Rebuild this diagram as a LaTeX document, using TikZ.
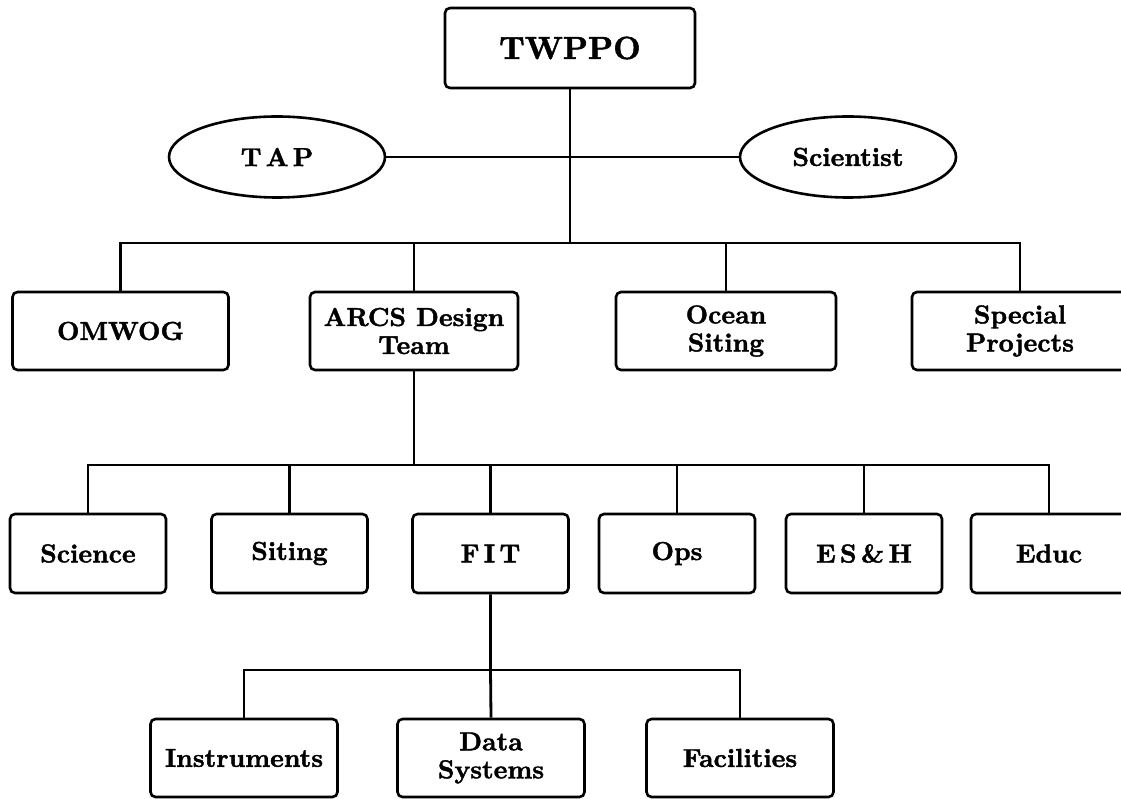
\documentclass[tikz,border=0pt]{standalone}
\usepackage{fontspec}
\usetikzlibrary{shapes.geometric}
\newfontfamily\heavyfont{lmroman10-bold.otf}[FakeBold=1.6]
\begin{document}
\begin{tikzpicture}[x=1pt,y=-1pt,
  txt/.style={font=\fontsize{26}{28}\selectfont\heavyfont},
  box/.style={draw, line width=2.6pt, rounded corners=5pt, inner sep=0pt, align=center, txt},
  top/.style={box, minimum width=250pt, minimum height=80pt, font=\fontsize{32}{34}\selectfont\heavyfont},
  rowa/.style={box, minimum width=216pt, minimum height=78pt},
  rowb/.style={box, minimum width=156pt, minimum height=79pt},
  rowc/.style={box, minimum width=187pt, minimum height=78pt},
  oval/.style={draw, ellipse, line width=2.6pt, inner sep=0pt, minimum width=216pt, minimum height=81pt, txt},
  link/.style={line width=2.8pt}]
\useasboundingbox (0,0) rectangle (1121,799);

% top
\node[top] (twppo) at (570,48) {TWPPO};
\node[oval] (tap) at (277,157) {T\,A\,P};
\node[oval] (sci) at (848,157) {Scientist};

% row 1
\node[rowa] (omwog) at (120.5,331) {OMWOG};
\node[rowa, minimum width=208pt] (arcs) at (414,331) {ARCS Design\\Team};
\node[rowa, minimum width=220pt] (ocean) at (726,331) {Ocean\\Siting};
\node[rowa] (special) at (1020,331) {Special\\Projects};

% row 2
\node[rowb] (science) at (88,553.5) {Science};
\node[rowb] (siting) at (289.5,553.5) {Siting};
\node[rowb] (fit) at (490.5,553.5) {F\,I\,T};
\node[rowb] (ops) at (677,553.5) {Ops};
\node[rowb] (esh) at (864,553.5) {E\,S\,\&\,H};
\node[rowb] (educ) at (1049,553.5) {Educ};

% row 3
\node[rowc] (instr) at (244,758) {Instruments};
\node[rowc] (data) at (491,758) {Data\\Systems};
\node[rowc] (fac) at (740,758) {Facilities};

% connectors
\coordinate (b1) at (570,243);
\coordinate (b2) at (414,465);
\coordinate (b3) at (490.5,670);

\draw[link] (tap.east) -- (sci.west);
\draw[link] (twppo.south) -- (b1);
\draw[link] (omwog.north) |- (b1) -| (special.north);
\draw[link] (arcs.north) -- (arcs.north |- b1);
\draw[link] (ocean.north) -- (ocean.north |- b1);

\draw[link] (arcs.south) -- (b2);
\draw[link] (science.north) |- (b2) -| (educ.north);
\draw[link] (siting.north) -- (siting.north |- b2);
\draw[link] (fit.north) -- (fit.north |- b2);
\draw[link] (ops.north) -- (ops.north |- b2);
\draw[link] (esh.north) -- (esh.north |- b2);

\draw[link] (fit.south) -- (b3) -- (data.north);
\draw[link] (instr.north) |- (b3) -| (fac.north);
\end{tikzpicture}
\end{document}
